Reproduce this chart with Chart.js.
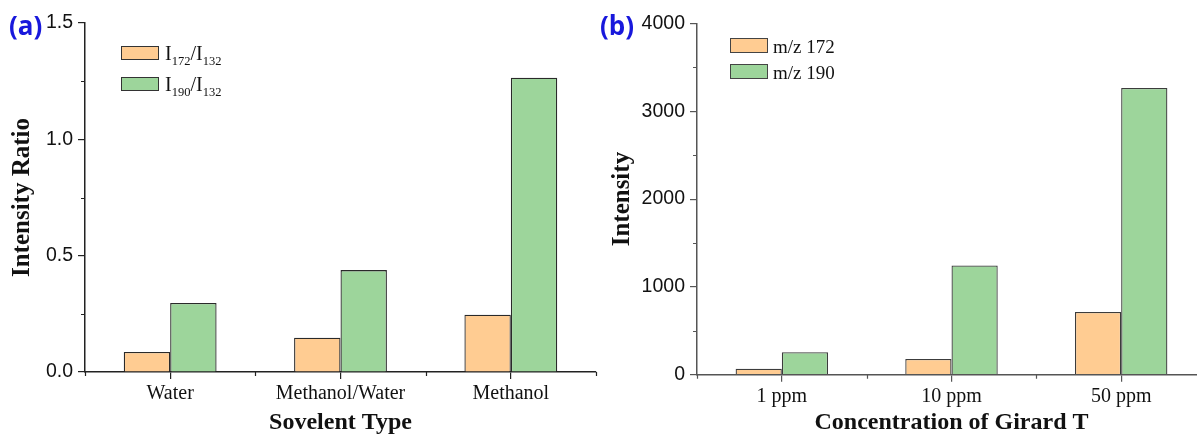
<!DOCTYPE html>
<html><head><meta charset="utf-8">
<script src="https://cdn.jsdelivr.net/npm/chart.js@4/dist/chart.umd.min.js"></script>
<style>
html,body{margin:0;padding:0;width:1197px;height:437px;overflow:hidden;background:#fff;}
#wrapA{position:absolute;left:0;top:0;width:600px;height:437px;}
#wrapB{position:absolute;left:600px;top:0;width:620px;height:437px;}
.tag{position:absolute;font-family:"Open Sans",sans-serif;font-weight:700;font-size:26px;line-height:26px;color:#1818dc;}
.lg{position:absolute;font-family:"Liberation Serif",serif;color:#111;white-space:nowrap;}
.box{position:absolute;box-sizing:border-box;border:1px solid #333;}
.sb{font-size:12.5px;vertical-align:-5px;}
</style>
</head><body>
<div id="wrapA"><canvas id="cA" width="600" height="437"></canvas></div>
<div id="wrapB"><canvas id="cB" width="620" height="437"></canvas></div>
<div class="tag" style="left:9px;top:12px;">(a)</div>
<div class="tag" style="left:600px;top:12px;">(b)</div>
<div id="legA"></div>
<div id="legB"></div>
<script>
// ---- data ----
const categoriesA = ['Water', 'Methanol/Water', 'Methanol'];
const ratio172 = [0.086, 0.147, 0.246];
const ratio190 = [0.297, 0.438, 1.265];
const seriesNamesA = [['I', '172', 'I', '132'], ['I', '190', 'I', '132']];
const yTicksA = [0, 0.5, 1.0, 1.5];
const yLabelsA = ['0.0', '0.5', '1.0', '1.5'];
const yMinorA = [0.25, 0.75, 1.25];

const categoriesB = ['1 ppm', '10 ppm', '50 ppm'];
const mz172 = [68, 179, 715];
const mz190 = [255, 1243, 3266];
const seriesNamesB = ['m/z 172', 'm/z 190'];
const yTicksB = [0, 1000, 2000, 3000, 4000];
const yLabelsB = ['0', '1000', '2000', '3000', '4000'];
const yMinorB = [500, 1500, 2500, 3500];

const ORANGE = '#FFCC92';
const GREEN = '#9DD59B';

const minorTicks = {
  id: 'minorTicks',
  afterDraw(chart, args, opts) {
    const {ctx} = chart;
    const x = chart.scales.x, y = chart.scales.y;
    ctx.save();
    ctx.strokeStyle = opts.color;
    ctx.lineWidth = 1.2;
    ctx.beginPath();
    for (const v of opts.yMinor) {
      const py = Math.round(y.getPixelForValue(v)) + 0.5;
      ctx.moveTo(x.left - 4, py); ctx.lineTo(x.left, py);
    }
    const n = x.getLabels().length;
    for (let i = 0; i <= n; i++) {
      const px = Math.round(x.getPixelForValue(i - 0.5)) + 0.5;
      ctx.moveTo(px, y.bottom); ctx.lineTo(px, y.bottom + 4);
    }
    ctx.stroke();
    ctx.restore();
  }
};

function makeChart(id, cats, s1, s2, names, cfg) {
  return new Chart(document.getElementById(id), {
    type: 'bar',
    data: {
      labels: cats,
      datasets: [
        {label: names[0], data: s1, backgroundColor: ORANGE, borderColor: cfg.barBorder, borderWidth: 1.3},
        {label: names[1], data: s2, backgroundColor: GREEN, borderColor: cfg.barBorder, borderWidth: 1.3}
      ]
    },
    plugins: [minorTicks],
    options: {
      responsive: false,
      animation: false,
      datasets: {bar: {categoryPercentage: 0.545, barPercentage: 1.0}},
      layout: {padding: cfg.padding},
      plugins: {
        legend: {display: false},
        tooltip: {enabled: false},
        minorTicks: {color: cfg.axisColor, yMinor: cfg.yMinor}
      },
      scales: {
        x: {
          grid: {display: true, drawOnChartArea: false, drawTicks: true, tickLength: 7, offset: false, color: cfg.axisColor, lineWidth: 1.2},
          border: {display: true, color: cfg.axisColor, width: 1.5},
          ticks: {color: '#111', padding: 3, font: {family: 'Liberation Serif', size: 20}},
          title: {display: true, text: cfg.xTitle, color: '#111', padding: {top: 0, bottom: 0}, font: {family: 'Liberation Serif', size: 24, weight: 'bold'}},
          afterFit(s) { s.height = cfg.xHeight; }
        },
        y: {
          min: cfg.yTicks[0], max: cfg.yTicks[cfg.yTicks.length - 1],
          grid: {display: true, drawOnChartArea: false, drawTicks: true, tickLength: 7, color: cfg.axisColor, lineWidth: 1.2},
          border: {display: true, color: cfg.axisColor, width: 1.5},
          afterBuildTicks(s) { s.ticks = cfg.yTicks.map(v => ({value: v})); },
          ticks: {
            color: '#111', padding: 5, font: {family: 'Liberation Sans', size: 19.5},
            callback: (v) => cfg.yLabels[cfg.yTicks.indexOf(v)]
          },
          title: {display: true, text: cfg.yTitle, color: '#111', padding: {top: cfg.yTitlePad, bottom: 0}, font: {family: 'Liberation Serif', size: 25, weight: 'bold'}},
          afterFit(s) { s.width = cfg.yWidth; }
        }
      }
    }
  });
}

makeChart('cA', categoriesA, ratio172, ratio190,
  seriesNamesA.map(p => p[0] + p[1] + '/' + p[2] + p[3]),
  {barBorder: '#2a2a2a', axisColor: '#222', padding: {left: 0, top: 23, right: 4, bottom: 0},
   xHeight: 65, yWidth: 85, yTitlePad: 8, yTicks: yTicksA, yLabels: yLabelsA, yMinor: yMinorA,
   xTitle: 'Sovelent Type', yTitle: 'Intensity Ratio'});

makeChart('cB', categoriesB, mz172, mz190, seriesNamesB,
  {barBorder: '#3c3c3c', axisColor: '#555', padding: {left: 0, top: 23.5, right: 14, bottom: 0},
   xHeight: 62.3, yWidth: 97, yTitlePad: 8, yTicks: yTicksB, yLabels: yLabelsB, yMinor: yMinorB,
   xTitle: 'Concentration of Girard T', yTitle: 'Intensity'});

// ---- HTML legends (built from dataset names / colours) ----
const colors = [ORANGE, GREEN];
const legA = document.getElementById('legA');
seriesNamesA.forEach((p, i) => {
  const top = 46 + i * 31;
  legA.insertAdjacentHTML('beforeend',
    `<div class="box" style="left:121px;top:${top}px;width:38px;height:14px;background:${colors[i]};"></div>` +
    `<div class="lg" style="left:165px;top:${top - 2.8}px;font-size:20px;line-height:20px;">${p[0]}<span class="sb">${p[1]}</span>/${p[2]}<span class="sb">${p[3]}</span></div>`);
});
const legB = document.getElementById('legB');
seriesNamesB.forEach((name, i) => {
  const top = 38 + i * 26;
  legB.insertAdjacentHTML('beforeend',
    `<div class="box" style="left:730px;top:${top}px;width:38px;height:15px;background:${colors[i]};border-color:#444;"></div>` +
    `<div class="lg" style="left:773px;top:${top - 0.6}px;font-size:19px;line-height:19px;">${name}</div>`);
});
</script>
</body></html>
